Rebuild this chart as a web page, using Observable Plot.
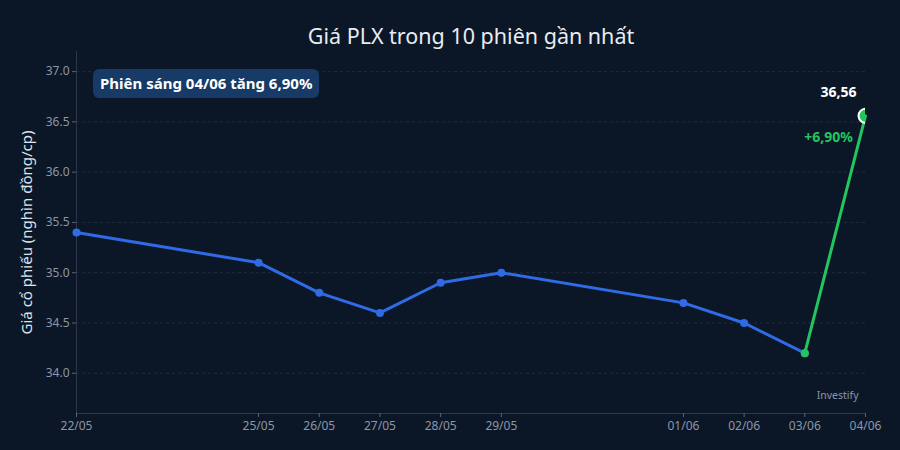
<!DOCTYPE html>
<html><head><meta charset="utf-8">
<script src="https://cdn.jsdelivr.net/npm/d3@7"></script>
<script src="https://cdn.jsdelivr.net/npm/@observablehq/plot@0.6"></script>
<style>
html,body{margin:0;padding:0;background:#0b1727;}
#wrap{position:relative;width:900px;height:450px;font-family:"Noto Sans",sans-serif;}
#note{position:absolute;left:93px;top:69px;height:29px;line-height:29px;padding:0 7px;border-radius:6px;background:#173a66;color:#ffffff;font-weight:bold;font-size:15px;white-space:nowrap;}
</style>
</head><body>
<div id="wrap"><div id="note"></div></div>
<script>
const title = "Giá PLX trong 10 phiên gần nhất";
const yLabel = "Giá cổ phiếu (nghìn đồng/cp)";
const noteText = "Phiên sáng 04/06 tăng 6,90%";
const sessions = ["2020-05-22","2020-05-25","2020-05-26","2020-05-27","2020-05-28","2020-05-29","2020-06-01","2020-06-02","2020-06-03","2020-06-04"];
const prices = [35.4, 35.1, 34.8, 34.6, 34.9, 35.0, 34.7, 34.5, 34.2, 36.56];
const yTicks = [34.0, 34.5, 35.0, 35.5, 36.0, 36.5, 37.0];
const yDomain = [33.6, 37.2];
const lastLabel = "36,56";
const changeLabel = "+6,90%";
const source = "Investify";

const parse = d3.utcParse("%Y-%m-%d");
const data = sessions.map((s, i) => ({date: parse(s), price: prices[i]}));
const blue = data.slice(0, data.length - 1);
const green = data.slice(data.length - 2);
const last = data[data.length - 1];

document.getElementById("note").textContent = noteText;

const chart = Plot.plot({
  width: 900, height: 450,
  marginLeft: 76, marginRight: 35, marginTop: 51, marginBottom: 37,
  style: {background: "transparent", fontFamily: "Noto Sans, sans-serif", color: "#8c96a8"},
  x: {type: "utc", domain: [data[0].date, last.date]},
  y: {domain: yDomain},
  marks: [
    Plot.gridY(yTicks, {stroke: "#34404f", strokeOpacity: 0.55, strokeDasharray: "3,3"}),
    Plot.ruleX([data[0].date], {stroke: "#2c384a"}),
    Plot.ruleY([yDomain[0]], {stroke: "#2c384a"}),
    Plot.axisY(yTicks, {tickFormat: d => d.toFixed(1), tickSize: 4, stroke: "#5a6578", fill: "#8c96a8", fontSize: 12, tickPadding: 3, label: null}),
    Plot.axisX(data.map(d => d.date), {tickFormat: d3.utcFormat("%d/%m"), tickSize: 4, stroke: "#5a6578", fill: "#8c96a8", fontSize: 12, tickPadding: 4, label: null}),
    Plot.text([yLabel], {frameAnchor: "left", textAnchor: "middle", dx: -49, rotate: -90, fill: "#dfe4ec", fontSize: 15}),
    Plot.text([title], {frameAnchor: "top", dy: -23, fill: "#e8ecf2", fontSize: 21.5}),
    Plot.line(blue, {x: "date", y: "price", stroke: "#2f6be6", strokeWidth: 3}),
    Plot.dot(blue, {x: "date", y: "price", r: 4, fill: "#2f6be6"}),
    Plot.line(green, {x: "date", y: "price", stroke: "#22c55e", strokeWidth: 3}),
    Plot.dot([green[0]], {x: "date", y: "price", r: 4, fill: "#22c55e"}),
    Plot.dot([last], {x: "date", y: "price", r: 7, fill: "#22c55e", stroke: "#ffffff", strokeWidth: 2, clip: true}),
    Plot.text([last], {x: "date", y: "price", text: () => lastLabel, dx: -27, dy: -23, fill: "#ffffff", fontWeight: "bold", fontSize: 14}),
    Plot.text([last], {x: "date", y: "price", text: () => changeLabel, dx: -37, dy: 22, fill: "#22c55e", fontWeight: "bold", fontSize: 14}),
    Plot.text([source], {frameAnchor: "bottom-right", dx: -7, dy: -15, fill: "#8c96a8", fontSize: 10.5})
  ]
});
document.getElementById("wrap").prepend(chart);
</script>
</body></html>
